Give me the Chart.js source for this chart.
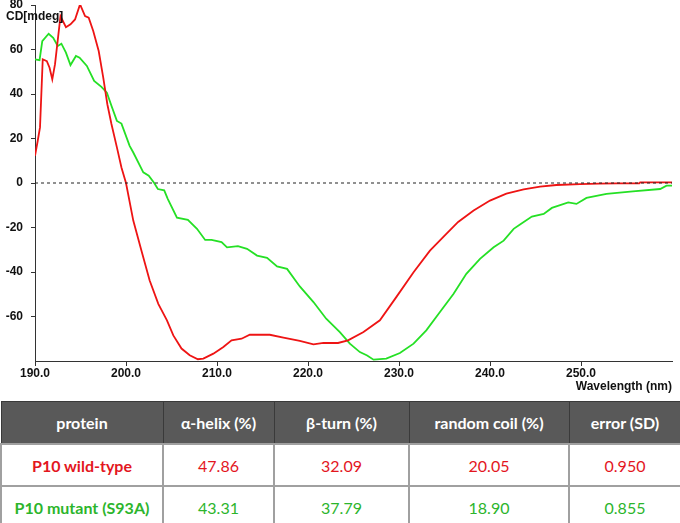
<!DOCTYPE html>
<html>
<head>
<meta charset="utf-8">
<script src="https://cdn.jsdelivr.net/npm/chart.js@4"></script>
<style>
  body { margin: 0; background: #fff; width: 680px; height: 523px; position: relative; overflow: hidden; }
  #cd { position: absolute; left: 0; top: 0; }
  table { position: absolute; left: 0; top: 401px; width: 680px; border-collapse: collapse; table-layout: fixed;
          font-family: Lato, "Open Sans", sans-serif; font-size: 16px; }
  th { background: #595959; color: #fff; font-weight: bold; height: 39px; border: 1px solid #3a3a3a; }
  td { height: 38px; border: 2px solid #a0a0a0; text-align: center; }
  .wt { color: #e3161e; }
  .mut { color: #2cb52c; }
  .name { font-weight: bold; }
</style>
</head>
<body>
<canvas id="cd" width="680" height="398"></canvas>
<table>
  <colgroup><col style="width:162px"><col style="width:111px"><col style="width:135px"><col style="width:160px"><col style="width:112px"></colgroup>
  <thead><tr id="head"></tr></thead>
  <tbody id="rows"></tbody>
</table>
<script>
// CD spectrum, P10 wild-type (red)
const wtNm = [190.0, 190.3, 190.55, 190.85, 191.3, 191.6, 191.9, 192.2, 192.8, 193.4, 193.9, 194.4, 194.95, 195.5, 195.9,
  196.4, 197.0, 197.5, 197.95, 198.4, 199.0, 199.5, 200.0, 200.8, 201.7, 202.6, 203.55, 204.5, 205.2, 206.1, 207.0,
  207.9, 208.5, 209.6, 210.7, 211.6, 212.7, 213.6, 215.8, 217.3, 219.1, 220.6, 221.7, 223.3, 224.4, 226.1, 227.9,
  229.7, 231.6, 233.4, 235.2, 236.5, 238.2, 240.0, 241.8, 243.7, 245.5, 247.3, 249.9, 252.0, 254.0, 256.4, 256.5, 258.0, 260.0];
const wtCd = [12.2, 19, 25, 55.6, 54.8, 51.8, 46.6, 53.4, 75, 70, 71.3, 73.5, 80.3, 75, 74.3,
  68.3, 59.3, 47.4, 35.4, 26.5, 16, 7, 0, -16.9, -30.4, -43.8, -54.3, -61.7, -68.5, -74.4, -77.4,
  -79.2, -78.9, -76.7, -73.7, -70.7, -70, -68.2, -68.2, -69.5, -71, -72.5, -71.9, -71.9, -70.7, -67, -61.7,
  -51.3, -40.1, -30.4, -22.9, -17.5, -12.4, -7.9, -4.8, -2.9, -1.6, -0.9, -0.5, -0.3, -0.2, -0.2, 0.3, 0.3, 0.3];

// CD spectrum, P10 mutant S93A (green)
const mutNm = [190.0, 190.5, 190.8, 191.5, 192.0, 192.5, 192.9, 193.4, 193.9, 194.5, 194.9, 195.7, 196.5, 197.3, 197.9,
  198.4, 199.0, 199.5, 200.4, 200.8, 201.9, 202.5, 203.1, 203.5, 204.2, 204.6, 205.6, 206.8, 207.8, 208.7, 209.4,
  210.5, 211.1, 212.3, 213.3, 214.4, 215.5, 216.6, 217.7, 219.1, 220.6, 222.0, 223.5, 224.6, 225.7, 226.5, 227.2,
  228.6, 230.1, 231.6, 233.0, 234.5, 236.0, 237.4, 238.9, 240.4, 241.5, 242.6, 243.3, 244.6, 245.9, 246.8, 248.6,
  249.5, 250.6, 252.8, 255.7, 258.7, 259.4, 260.0];
const mutCd = [55.6, 55.2, 63.8, 67.1, 65.3, 61.6, 62.6, 58.6, 53, 57.1, 56.3, 52.6, 45.9, 43.2, 40.6,
  34.7, 27.9, 26.7, 16.7, 13.7, 4.8, 3.3, 0, -2.7, -3.3, -7.2, -15.6, -16.6, -20.6, -25.6, -25.6,
  -26.6, -28.9, -28.4, -29.6, -32.6, -33.6, -37.5, -38.6, -46.5, -53.5, -61, -67, -72.2, -76, -77.5, -79.4,
  -78.9, -76.4, -72.2, -66.2, -58, -49.8, -40.8, -34.1, -28.9, -25.9, -20.6, -18.7, -15.1, -13.9, -11.2, -8.7,
  -9.4, -6.7, -4.9, -3.8, -2.7, -1.2, -1.2];

// zero reference line
const zeroNm = [190, 260];
const zeroCd = [0, 0];

// table
const tableHead = ['protein', 'α-helix (%)', 'β-turn (%)', 'random coil (%)', 'error (SD)'];
const proteins = ['P10 wild-type', 'P10 mutant (S93A)'];
const alphaHelix = ['47.86', '43.31'];
const betaTurn = ['32.09', '37.79'];
const randomCoil = ['20.05', '18.90'];
const errorSD = ['0.950', '0.855'];

const pts = (xs, ys) => xs.map((x, i) => ({ x: x, y: ys[i] }));

const axisFont = { family: '"Liberation Sans", Arial, sans-serif', size: 12, weight: 'bold', lineHeight: 1 };

const axisTitles = {
  id: 'axisTitles',
  afterDraw(chart) {
    const ctx = chart.ctx;
    ctx.save();
    ctx.fillStyle = '#111';
    ctx.font = 'bold 12px "Liberation Sans", Arial, sans-serif';
    ctx.textBaseline = 'middle';
    ctx.textAlign = 'left';
    ctx.fillText('CD[mdeg]', 6, 17);
    ctx.textAlign = 'right';
    ctx.fillText('Wavelength (nm)', chart.chartArea.right, 387);
    ctx.restore();
  }
};

new Chart(document.getElementById('cd'), {
  type: 'line',
  data: {
    datasets: [
      { data: pts(zeroNm, zeroCd), borderColor: '#222', borderWidth: 1, borderDash: [3, 3], pointRadius: 0 },
      { data: pts(wtNm, wtCd), borderColor: '#ee1414', borderWidth: 1.8, pointRadius: 0 },
      { data: pts(mutNm, mutCd), borderColor: '#25e025', borderWidth: 1.8, pointRadius: 0 }
    ]
  },
  options: {
    responsive: false,
    animation: false,
    layout: { padding: { top: 0, right: 8, bottom: 16 } },
    plugins: { legend: { display: false }, tooltip: { enabled: false } },
    scales: {
      x: {
        type: 'linear', min: 190, max: 260,
        afterBuildTicks: s => { s.ticks = s.ticks.filter(t => t.value < 260); },
        border: { color: '#333' },
        grid: { drawOnChartArea: false, tickLength: 5, tickColor: '#333' },
        ticks: { stepSize: 10, color: '#111', font: axisFont, padding: 2, maxRotation: 0,
                 callback: v => v.toFixed(1) }
      },
      y: {
        min: -80, max: 80,
        afterFit: s => { s.width = 35; s.paddingTop = 5; s.paddingBottom = 0; },
        afterBuildTicks: s => { s.ticks = s.ticks.filter(t => t.value > -80); },
        border: { color: '#333' },
        grid: { drawOnChartArea: false, tickLength: 4, tickColor: '#333' },
        ticks: { stepSize: 20, color: '#111', font: axisFont, padding: 8 }
      }
    }
  },
  plugins: [axisTitles]
});

document.getElementById('head').innerHTML = tableHead.map(h => '<th>' + h + '</th>').join('');
document.getElementById('rows').innerHTML = proteins.map((p, i) => {
  const cls = i === 0 ? 'wt' : 'mut';
  return '<tr class="' + cls + '"><td class="name">' + p + '</td><td>' + alphaHelix[i] + '</td><td>' +
    betaTurn[i] + '</td><td>' + randomCoil[i] + '</td><td>' + errorSD[i] + '</td></tr>';
}).join('');
</script>
</body>
</html>
